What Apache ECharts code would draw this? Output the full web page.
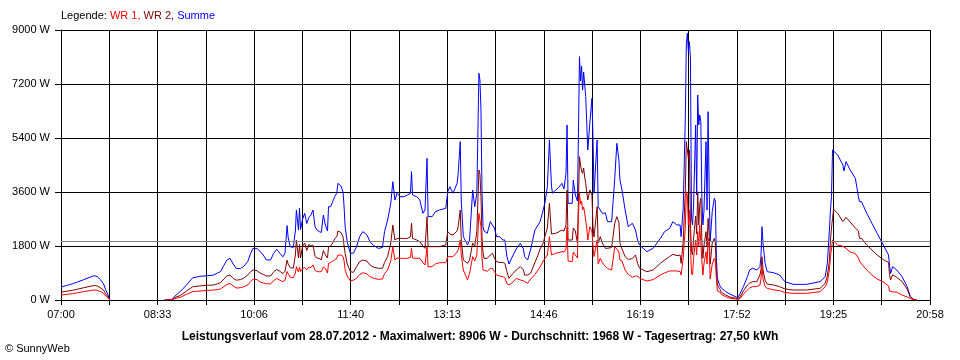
<!DOCTYPE html>
<html>
<head>
<meta charset="utf-8">
<script src="https://cdn.jsdelivr.net/npm/echarts@6/dist/echarts.min.js"></script>
<style>
html,body{margin:0;padding:0;background:#fff;}
#chart{width:960px;height:360px;}
</style>
</head>
<body>
<div id="chart"></div>
<script>
// ---- data ----
const times = ["07:00","07:05","07:11","07:16","07:22","07:28","07:32","07:35","07:38","07:41","07:43","07:45","07:47","08:00",
"08:40","08:47","08:51","08:55","09:01","09:07","09:14","09:21","09:27","09:31","09:34","09:37","09:40","09:43","09:46","09:49","09:53","09:56",
"10:00","10:03","10:05","10:09","10:12","10:15","10:18","10:22","10:25","10:28","10:31","10:34","10:36","10:38","10:39","10:41","10:44","10:46","10:47","10:49","10:50","10:51","10:53","10:55","10:57","10:59",
"11:01","11:03","11:05","11:07","11:09","11:11","11:13","11:15","11:17","11:18","11:20","11:22","11:24","11:26","11:27","11:28","11:30","11:32","11:33","11:34","11:36","11:39","11:42","11:45","11:48","11:51","11:55","11:58",
"12:01","12:06","12:10","12:12","12:15","12:18","12:20","12:22","12:24","12:27","12:31","12:34","12:37","12:38","12:39","12:43","12:46","12:49","12:51","12:53","12:54","12:58",
"13:01","13:05","13:11","13:13","13:15","13:18","13:22","13:23","13:25","13:26","13:28","13:32","13:34","13:37","13:39","13:41","13:43","13:44","13:45","13:46","13:47","13:48","13:51","13:54","13:56","13:58",
"14:00","14:03","14:06","14:08","14:10","14:12","14:16","14:19","14:23","14:26","14:27","14:30","14:33","14:37","14:40","14:42","14:45","14:47","14:49","14:51","14:53","14:54","14:57",
"15:00","15:03","15:05","15:07","15:08","15:09","15:13","15:14","15:16","15:18","15:19","15:20","15:21","15:22","15:23","15:24","15:25","15:26","15:27","15:28","15:30","15:32","15:33","15:34","15:37","15:38","15:40","15:42","15:45","15:47","15:51","15:54","15:56","15:58","15:59",
"16:01","16:04","16:07","16:11","16:14","16:16","16:18","16:25","16:31","16:38","16:42","16:47","16:50","16:54","16:57","16:58",
"17:00","17:02","17:03","17:04","17:05","17:06","17:07","17:08","17:09","17:10","17:12","17:13","17:14","17:15","17:16","17:17","17:18","17:19","17:20","17:22","17:23","17:24","17:25","17:26","17:28","17:30","17:31","17:32","17:33","17:35","17:37","17:41","17:45","17:51","17:53","17:55","17:58",
"18:02","18:04","18:07","18:11","18:14","18:15","18:16","18:17","18:19","18:21","18:27","18:33","18:38","18:46","18:59",
"19:12","19:17","19:19","19:21","19:22","19:23","19:24","19:25","19:29","19:34","19:35","19:37","19:41","19:46","19:49","19:50","19:52","19:57",
"20:02","20:07","20:13","20:18","20:19","20:20","20:22","20:26","20:31","20:36","20:39","20:42","20:45"];

const summe = [430,480,540,600,680,760,810,780,680,540,350,200,0,null,
0,20,167,280,500,740,790,810,830,900,950,1150,1330,1390,1200,1050,1050,1110,
1280,1560,1720,1720,1620,1500,1340,1330,1550,1690,1560,1440,1560,2480,2100,1780,1750,2300,3000,2330,3060,2350,2700,2890,2550,2750,
2830,3000,2440,2330,2280,2250,2830,2500,2300,3110,3110,3280,3450,3560,3890,3940,3800,3600,3100,2440,1940,1556,1560,1780,2110,2280,2170,1940,
1830,1720,1750,2280,2670,3220,3944,3330,3556,3444,3444,3500,3556,4278,3500,3444,3333,2890,3000,4722,2780,2780,
2944,3000,3056,3611,3778,3556,3889,4222,5278,3300,2111,1833,2000,3667,3111,3556,7556,7333,6333,3556,2444,2300,2222,2611,2500,2400,
2111,2111,2000,2000,1444,1200,1500,1700,1889,1700,1444,1333,1700,2333,2500,2611,3000,3300,3778,5333,3778,3556,3667,
3750,3889,3700,4222,5833,3222,3222,4000,3500,3300,5556,8111,7300,7800,7000,7600,7200,6778,5889,5000,5900,6722,5444,3556,5333,3111,3000,2889,2900,2611,2611,4056,5222,4667,4000,
3667,3000,2444,2556,2333,2000,1833,1611,1722,2056,2278,2389,2611,2500,2500,2111,
3056,6000,8500,8889,8278,8611,8056,2722,2500,3167,5833,3500,6833,5833,6167,5944,3389,2500,2944,5278,3000,6278,3833,1944,2944,3389,3300,1389,722,500,389,278,200,100,80,222,444,
778,1000,1056,1000,1111,1444,2444,1889,1222,944,911,833,611,522,522,
611,778,1222,2333,3000,3444,5000,5000,4833,4500,4300,4611,4333,4056,3444,3278,3278,2889,
2556,2222,1833,1500,1150,889,1111,1000,778,444,111,30,0];

const wr2 = [265,290,320,360,410,455,485,465,410,330,210,120,0,null,
0,10,100,150,300,440,470,490,500,540,580,700,800,830,720,660,680,720,
830,950,1000,980,900,850,800,800,930,1020,960,880,960,1330,1200,1080,1060,1500,2000,1400,1850,1400,1800,1900,1650,1850,
1800,1830,1450,1400,1380,1340,1650,1500,1400,1780,1800,1900,2050,2110,2300,2330,2250,2100,1800,1556,1200,950,920,1110,1280,1333,1300,1167,
1100,1056,1060,1250,1450,1900,2500,2000,2050,2056,2050,2056,2100,2556,2056,2000,1944,1800,1722,2778,1780,1778,
1778,1778,1833,2278,2200,2167,2300,2444,3000,2000,1333,1222,1333,1900,1800,2278,4333,4200,3444,2100,1556,1389,1389,1500,1556,1400,
1278,1250,1250,1222,950,722,889,1000,1111,1000,833,833,900,1250,1500,1700,1900,2167,2400,3222,2200,2150,2222,
2270,2333,2300,2500,3667,2000,2000,2400,2300,1900,3333,4778,4500,4300,4222,4400,4100,3889,3600,3333,3667,3500,2444,2100,3111,1900,2111,1900,1722,1722,1750,2556,2778,2600,1889,
1700,1444,1350,1380,1500,1222,1056,944,1000,1222,1330,1450,1522,1480,1500,1222,
1944,3611,5278,5000,4722,5000,2500,1611,1500,2056,2800,2200,3611,2500,3200,3389,2000,1389,1800,2278,1800,2722,2200,1200,1900,2056,1900,944,500,389,250,167,100,56,40,111,300,
500,560,611,611,833,1000,1444,1000,650,533,500,444,370,333,333,
389,556,800,1300,2000,2400,2722,3022,2889,2611,2560,2756,2600,2400,2300,2056,2056,1833,
1667,1500,1350,1250,850,667,840,750,620,360,100,20,0];

const wr1 = [165,185,210,240,280,315,335,320,280,220,140,80,0,null,
0,10,60,90,190,280,300,320,330,350,370,450,520,550,470,400,410,440,
500,620,690,680,600,570,540,540,640,720,660,610,660,950,880,760,740,900,1110,930,1100,950,1050,1080,1000,1100,
1080,1170,990,950,940,950,1100,1050,900,1220,1250,1300,1330,1400,1500,1550,1500,1450,1300,1000,800,640,660,720,850,911,870,778,
730,689,700,880,1000,1300,1778,1333,1400,1389,1389,1389,1420,1722,1400,1389,1389,1250,1167,1778,1100,1111,
1200,1244,1244,1444,1444,1444,1600,1667,2000,1500,1000,667,889,1444,1300,1500,2889,2900,2444,1400,1000,944,960,1050,1056,950,
833,800,780,750,550,500,600,720,667,640,590,556,700,850,1000,1100,1300,1400,1500,2111,1500,1500,1556,
1580,1611,1600,1700,2444,1300,1278,1600,1500,1400,2889,3556,3200,3300,3000,3100,2900,2667,2400,2000,2444,2300,1778,1450,2000,1200,1389,1250,1111,1050,1000,1778,1700,1600,1333,
1300,1000,850,760,800,800,722,633,680,833,900,967,970,967,950,833,
1389,2400,3611,3500,2500,3000,1800,900,833,1389,2000,1500,2278,1800,2500,2500,1300,833,1200,1611,1200,2056,1800,700,1200,1389,1300,700,300,278,180,111,60,33,20,56,200,
333,400,444,450,500,700,1111,700,450,389,340,311,250,222,222,
278,444,600,1000,1444,1700,2000,2000,1833,1790,1780,1722,1600,1550,1400,1300,1200,1000,
830,700,600,470,300,278,270,260,167,100,50,10,0];

const tickLabels = ["07:00","08:33","10:06","11:40","13:13","14:46","16:19","17:52","19:25","20:58"];
const yTicks = [0,1800,3600,5400,7200,9000];
const startMinutes = 7*60;
const endMinutes = 20*60+58;
const gridSteps = 18;
const averageValue = 1968;
const titleDate = "28.07.2012";
const maxValue = 8906;
const dailyYield = "27,50";

// ---- build ----
const stepMin = (endMinutes - startMinutes) / gridSteps;
function toX(t){
  const p = t.split(":");
  return ((+p[0])*60 + (+p[1]) - startMinutes) / stepMin;
}
function mk(arr){
  return times.map((t,i)=> arr[i] == null ? [toX(t), '-'] : [toX(t), arr[i]]);
}
const font = "'Liberation Sans', Arial, sans-serif";
const chart = echarts.init(document.getElementById('chart'), null, {renderer:'canvas'});
chart.setOption({
  animation:false,
  backgroundColor:'#ffffff',
  grid:{left:61, right:30, top:30, bottom:60, containLabel:false},
  xAxis:{
    type:'value', min:0, max:gridSteps, interval:1,
    axisLine:{show:true, onZero:false, lineStyle:{color:'#000', width:1}},
    axisTick:{show:true, length:5, lineStyle:{color:'#000'}},
    axisLabel:{
      show:true, margin:9, color:'#000', fontSize:11, fontFamily:font,
      showMinLabel:true, showMaxLabel:true,
      formatter:function(v){
        const i = Math.round(v);
        return (i % 2 === 0) ? tickLabels[i/2] : '';
      }
    },
    splitLine:{show:true, lineStyle:{color:'#000', width:1}}
  },
  yAxis:{
    type:'value', min:yTicks[0], max:yTicks[yTicks.length-1], interval:yTicks[1]-yTicks[0],
    axisLine:{show:true, lineStyle:{color:'#000', width:1}},
    axisTick:{show:true, length:6, lineStyle:{color:'#000'}},
    axisLabel:{show:true, margin:11, color:'#000', fontSize:11, fontFamily:font,
      formatter:function(v){ return String(Math.round(v)) + ' W'; }},
    splitLine:{show:true, lineStyle:{color:'#000', width:1}}
  },
  series:[
    {name:'Summe', type:'line', data:mk(summe), showSymbol:false, symbol:'none', connectNulls:false,
     lineStyle:{color:'#0000ff', width:1}, itemStyle:{color:'#0000ff'},
     markLine:{silent:true, symbol:'none', label:{show:false}, animation:false,
       lineStyle:{color:'#808080', type:'solid', width:1}, data:[{yAxis:averageValue}]}},
    {name:'WR 2', type:'line', data:mk(wr2), showSymbol:false, symbol:'none', connectNulls:false,
     lineStyle:{color:'#800000', width:1}, itemStyle:{color:'#800000'}},
    {name:'WR 1', type:'line', data:mk(wr1), showSymbol:false, symbol:'none', connectNulls:false,
     lineStyle:{color:'#ff0000', width:1}, itemStyle:{color:'#ff0000'}}
  ],
  graphic:[
    {type:'text', left:61, top:10, style:{
      text:'{k|Legende: }{a|WR 1, }{b|WR 2, }{c|Summe}',
      rich:{
        k:{fill:'#000', fontSize:11, fontFamily:font},
        a:{fill:'#ff0000', fontSize:11, fontFamily:font},
        b:{fill:'#800000', fontSize:11, fontFamily:font},
        c:{fill:'#0000ff', fontSize:11, fontFamily:font}
      }}},
    {type:'text', x:480, y:337, style:{
      text:'Leistungsverlauf vom ' + titleDate + ' - Maximalwert: ' + maxValue + ' W - Durchschnitt: ' + averageValue + ' W - Tagesertrag: ' + dailyYield + ' kWh',
      fill:'#000', fontSize:12, fontWeight:'bold', fontFamily:font, align:'center', verticalAlign:'middle'}},
    {type:'text', x:5, y:349, style:{text:'© SunnyWeb', fill:'#000', fontSize:11, fontFamily:font, align:'left', verticalAlign:'middle'}}
  ]
});
</script>
</body>
</html>
